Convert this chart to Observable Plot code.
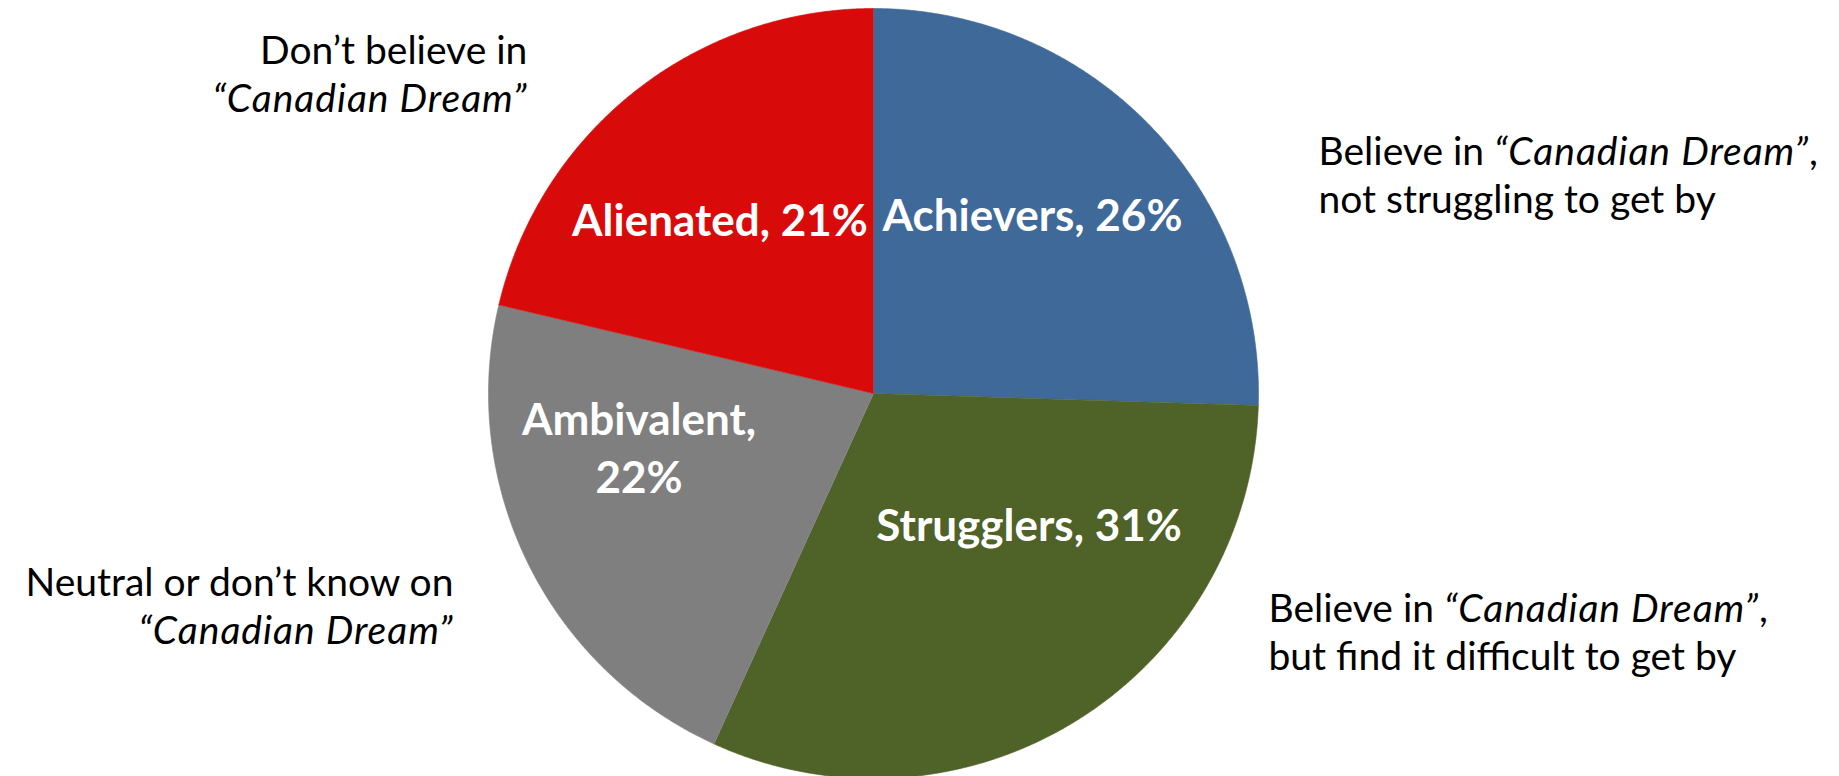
<!DOCTYPE html>
<html><head><meta charset="utf-8">
<script src="https://cdn.jsdelivr.net/npm/d3@7"></script>
<script src="https://cdn.jsdelivr.net/npm/@observablehq/plot@0.6"></script>
<style>html,body{margin:0;padding:0;background:#fff;overflow:hidden}</style>
</head><body><div id="chart"></div>
<script>
// ---- data (slice sizes; labels as printed) ----
const segments = ["Achievers", "Strugglers", "Ambivalent", "Alienated"];
const shares = [25.5, 31.3, 21.9, 21.3];
const sliceLabels = ["Achievers, 26%", "Strugglers, 31%", "Ambivalent,\n22%", "Alienated, 21%"];
const descriptions = [
  "Believe in “Canadian Dream”,\nnot struggling to get by",
  "Believe in “Canadian Dream”,\nbut find it difficult to get by",
  "Neutral or don’t know on\n“Canadian Dream”",
  "Don’t believe in\n“Canadian Dream”"
];
const colors = ["#3E6999", "#4F6228", "#7F7F7F", "#D90A0A"];

// ---- layout (not data) ----
const labelPos = [[0.413, 0.465], [0.404, -0.340], [-0.609, -0.135], [-0.399, 0.452]];
const labelLH = [1.2, 1.2, 1.32, 1.2];
const descPos = [[1.156, 0.572, "start"], [1.026, -0.615, "start"], [-1.091, -0.548, "end"], [-0.899, 0.834, "end"]];

// ---- slice polygons from shares ----
const total = d3.sum(shares);
const pts = [];
let acc = 0;
segments.forEach((s, i) => {
  const a0 = acc / total * 2 * Math.PI;
  acc += shares[i];
  const a1 = acc / total * 2 * Math.PI;
  pts.push({segment: s, x: 0, y: 0});
  const n = Math.max(2, Math.ceil((a1 - a0) / (Math.PI / 720)));
  for (let k = 0; k <= n; k++) {
    const a = a0 + (a1 - a0) * k / n;
    pts.push({segment: s, x: Math.sin(a), y: Math.cos(a)});
  }
});

const labels = segments.map((s, i) => ({text: sliceLabels[i], x: labelPos[i][0], y: labelPos[i][1], lh: labelLH[i]}));
const descs = segments.map((s, i) => ({text: descriptions[i], x: descPos[i][0], y: descPos[i][1], anchor: descPos[i][2]}));

const chart = Plot.plot({
  width: 1839, height: 776,
  margin: 0,
  style: {fontFamily: "Lato, sans-serif", background: "#fff", color: "#000"},
  x: {domain: [-1, 1], range: [488, 1258], axis: null},
  y: {domain: [-1, 1], range: [778, 8], axis: null},
  color: {domain: segments, range: colors},
  marks: [
    Plot.line(pts, {x: "x", y: "y", z: "segment", fill: "segment", stroke: "segment", strokeWidth: 0.6}),
    Plot.text(labels.filter(d => d.lh === 1.2), {x: "x", y: "y", text: "text", fill: "white", fontSize: 44, fontWeight: "bold", lineHeight: 1.2, textAnchor: "middle"}),
    Plot.text(labels.filter(d => d.lh !== 1.2), {x: "x", y: "y", text: "text", fill: "white", fontSize: 44, fontWeight: "bold", lineHeight: 1.32, textAnchor: "middle"}),
    Plot.text(descs.filter(d => d.anchor === "start"), {x: "x", y: "y", text: "text", fill: "black", fontSize: 39, lineHeight: 1.25, textAnchor: "start"}),
    Plot.text(descs.filter(d => d.anchor === "end"), {x: "x", y: "y", text: "text", fill: "black", fontSize: 39, lineHeight: 1.25, textAnchor: "end"})
  ]
});
document.getElementById("chart").appendChild(chart);

// italicise “Canadian Dream”
const key = "“Canadian Dream”";
d3.select(chart).selectAll("text").each(function() {
  const spans = this.querySelectorAll("tspan");
  const targets = spans.length ? Array.from(spans) : [this];
  targets.forEach(el => {
    const t = el.textContent;
    const idx = t.indexOf(key);
    if (idx < 0) return;
    el.textContent = "";
    if (idx > 0) el.appendChild(document.createTextNode(t.slice(0, idx)));
    const it = document.createElementNS("http://www.w3.org/2000/svg", "tspan");
    it.setAttribute("font-style", "italic");
    it.setAttribute("letter-spacing", "1");
    it.textContent = key;
    el.appendChild(it);
    const rest = t.slice(idx + key.length);
    if (rest) el.appendChild(document.createTextNode(rest));
  });
});
</script>
</body></html>
